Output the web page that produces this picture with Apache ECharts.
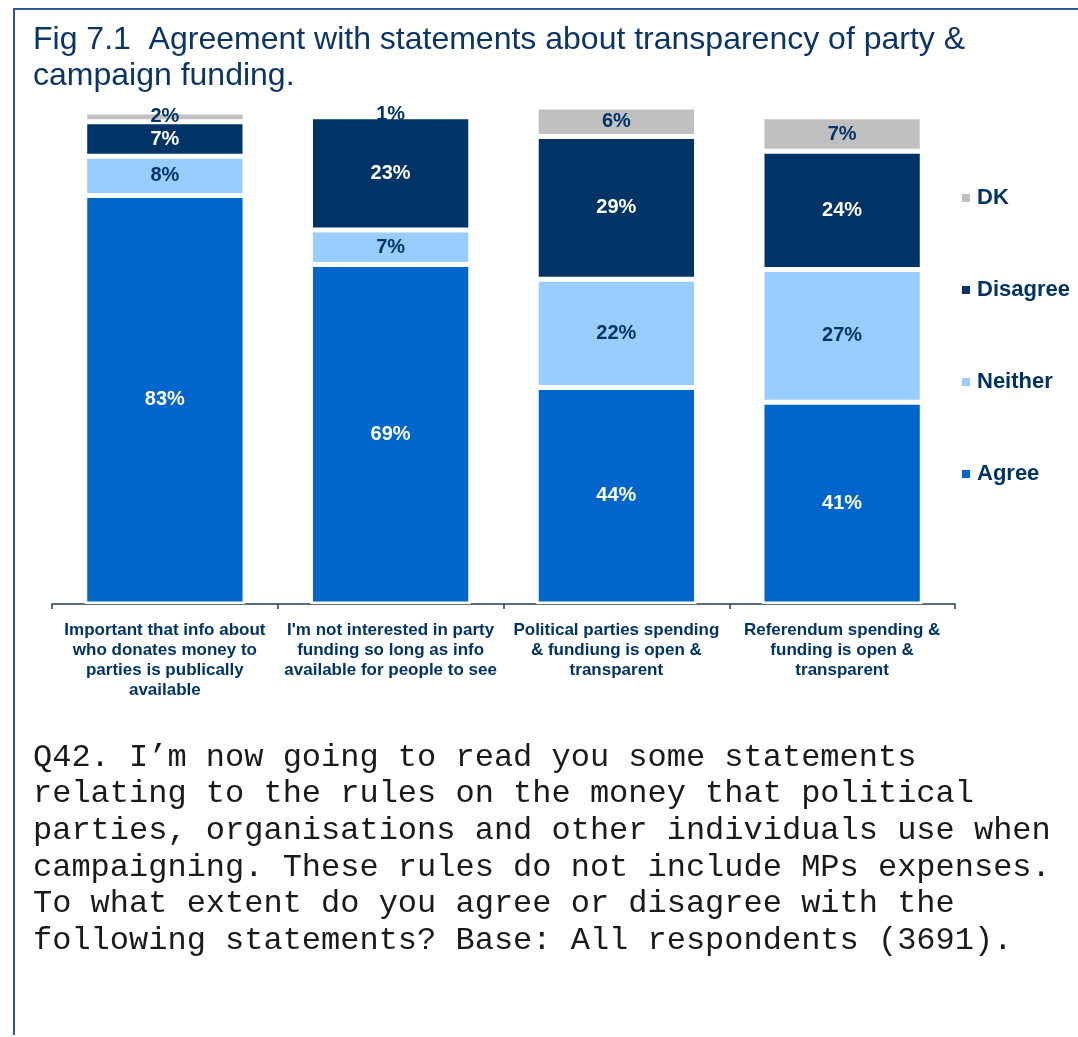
<!DOCTYPE html>
<html>
<head>
<meta charset="utf-8">
<script src="https://cdn.jsdelivr.net/npm/echarts@6/dist/echarts.min.js"></script>
<style>
  html, body { margin: 0; padding: 0; background: #ffffff; }
  #chart { width: 1078px; height: 1037px; }
</style>
</head>
<body>
<div id="chart"></div>
<script>
// Statements shown along the x axis
const statements = [
  "Important that info about\nwho donates money to\nparties is publically\navailable",
  "I'm not interested in party\nfunding so long as info\navailable for people to see",
  "Political parties spending\n& fundiung is open &\ntransparent",
  "Referendum spending &\nfunding is open &\ntransparent"
];

// Percentages per response, one value per statement
const agree    = [83, 69, 44, 41];
const neither  = [8, 7, 22, 27];
const disagree = [7, 23, 29, 24];
const dk       = [2, 1, 6, 7];

const titleText = "Fig 7.1  Agreement with statements about transparency of party &\ncampaign funding.";
const questionText = "Q42. I\u2019m now going to read you some statements\nrelating to the rules on the money that political\nparties, organisations and other individuals use when\ncampaigning. These rules do not include MPs expenses.\nTo what extent do you agree or disagree with the\nfollowing statements? Base: All respondents (3691).";

const NAVY = '#003366';
const FONT = '"Liberation Sans", Arial, sans-serif';

function stackSeries(name, values, color, labelColor) {
  return {
    name: name,
    type: 'bar',
    stack: 'total',
    barWidth: '71%',
    data: values,
    itemStyle: { color: color, borderColor: '#ffffff', borderWidth: 2.5 },
    label: {
      show: true,
      position: 'inside',
      formatter: '{c}%',
      color: labelColor,
      fontFamily: FONT,
      fontWeight: 'bold',
      fontSize: 20
    }
  };
}

const chart = echarts.init(document.getElementById('chart'), null, { renderer: 'canvas' });

chart.setOption({
  animation: false,
  backgroundColor: '#ffffff',
  title: [
    {
      text: titleText,
      left: 33,
      top: 22,
      padding: 0,
      textStyle: {
        color: '#0B3566',
        fontFamily: FONT,
        fontWeight: 'normal',
        fontSize: 32,
        lineHeight: 36
      }
    },
    {
      text: questionText,
      left: 33,
      top: 739,
      padding: 0,
      textStyle: {
        color: '#1a1a1a',
        fontFamily: '"Courier New", "Liberation Mono", monospace',
        fontWeight: 'normal',
        fontSize: 32,
        lineHeight: 36.6
      }
    }
  ],
  legend: {
    data: ['DK', 'Disagree', 'Neither', 'Agree'],
    orient: 'vertical',
    left: 962,
    top: 186,
    padding: 0,
    itemWidth: 8,
    itemHeight: 8,
    itemGap: 68,
    icon: 'rect',
    itemStyle: { borderWidth: 0 },
    textStyle: {
      color: NAVY,
      fontFamily: FONT,
      fontWeight: 'bold',
      fontSize: 22,
      lineHeight: 24,
      padding: [0, 0, 0, 2]
    }
  },
  grid: { left: 52, right: 123, top: 107, bottom: 433 },
  xAxis: {
    type: 'category',
    data: statements,
    axisLine: { lineStyle: { color: '#2A3B5A', width: 1.5 } },
    axisTick: { show: true, length: 5, interval: 0, lineStyle: { color: '#2A3B5A', width: 1.5 } },
    axisLabel: {
      interval: 0,
      margin: 16,
      color: NAVY,
      fontFamily: FONT,
      fontWeight: 'bold',
      fontSize: 17,
      lineHeight: 20,
      align: 'center'
    }
  },
  yAxis: {
    type: 'value',
    min: 0,
    max: 101,
    show: false,
    splitLine: { show: false }
  },
  series: [
    stackSeries('Agree', agree, '#0066CC', '#ffffff'),
    stackSeries('Neither', neither, '#99CCFF', NAVY),
    stackSeries('Disagree', disagree, '#003366', '#ffffff'),
    stackSeries('DK', dk, '#C0C0C0', NAVY)
  ],
  graphic: [
    // frame along the top and left edges
    { type: 'line', shape: { x1: 13, y1: 9, x2: 1078, y2: 9 }, style: { stroke: '#2F5596', lineWidth: 2 } },
    { type: 'line', shape: { x1: 14, y1: 8, x2: 14, y2: 1035 }, style: { stroke: '#2F5596', lineWidth: 2 } }
  ]
});
</script>
</body>
</html>
